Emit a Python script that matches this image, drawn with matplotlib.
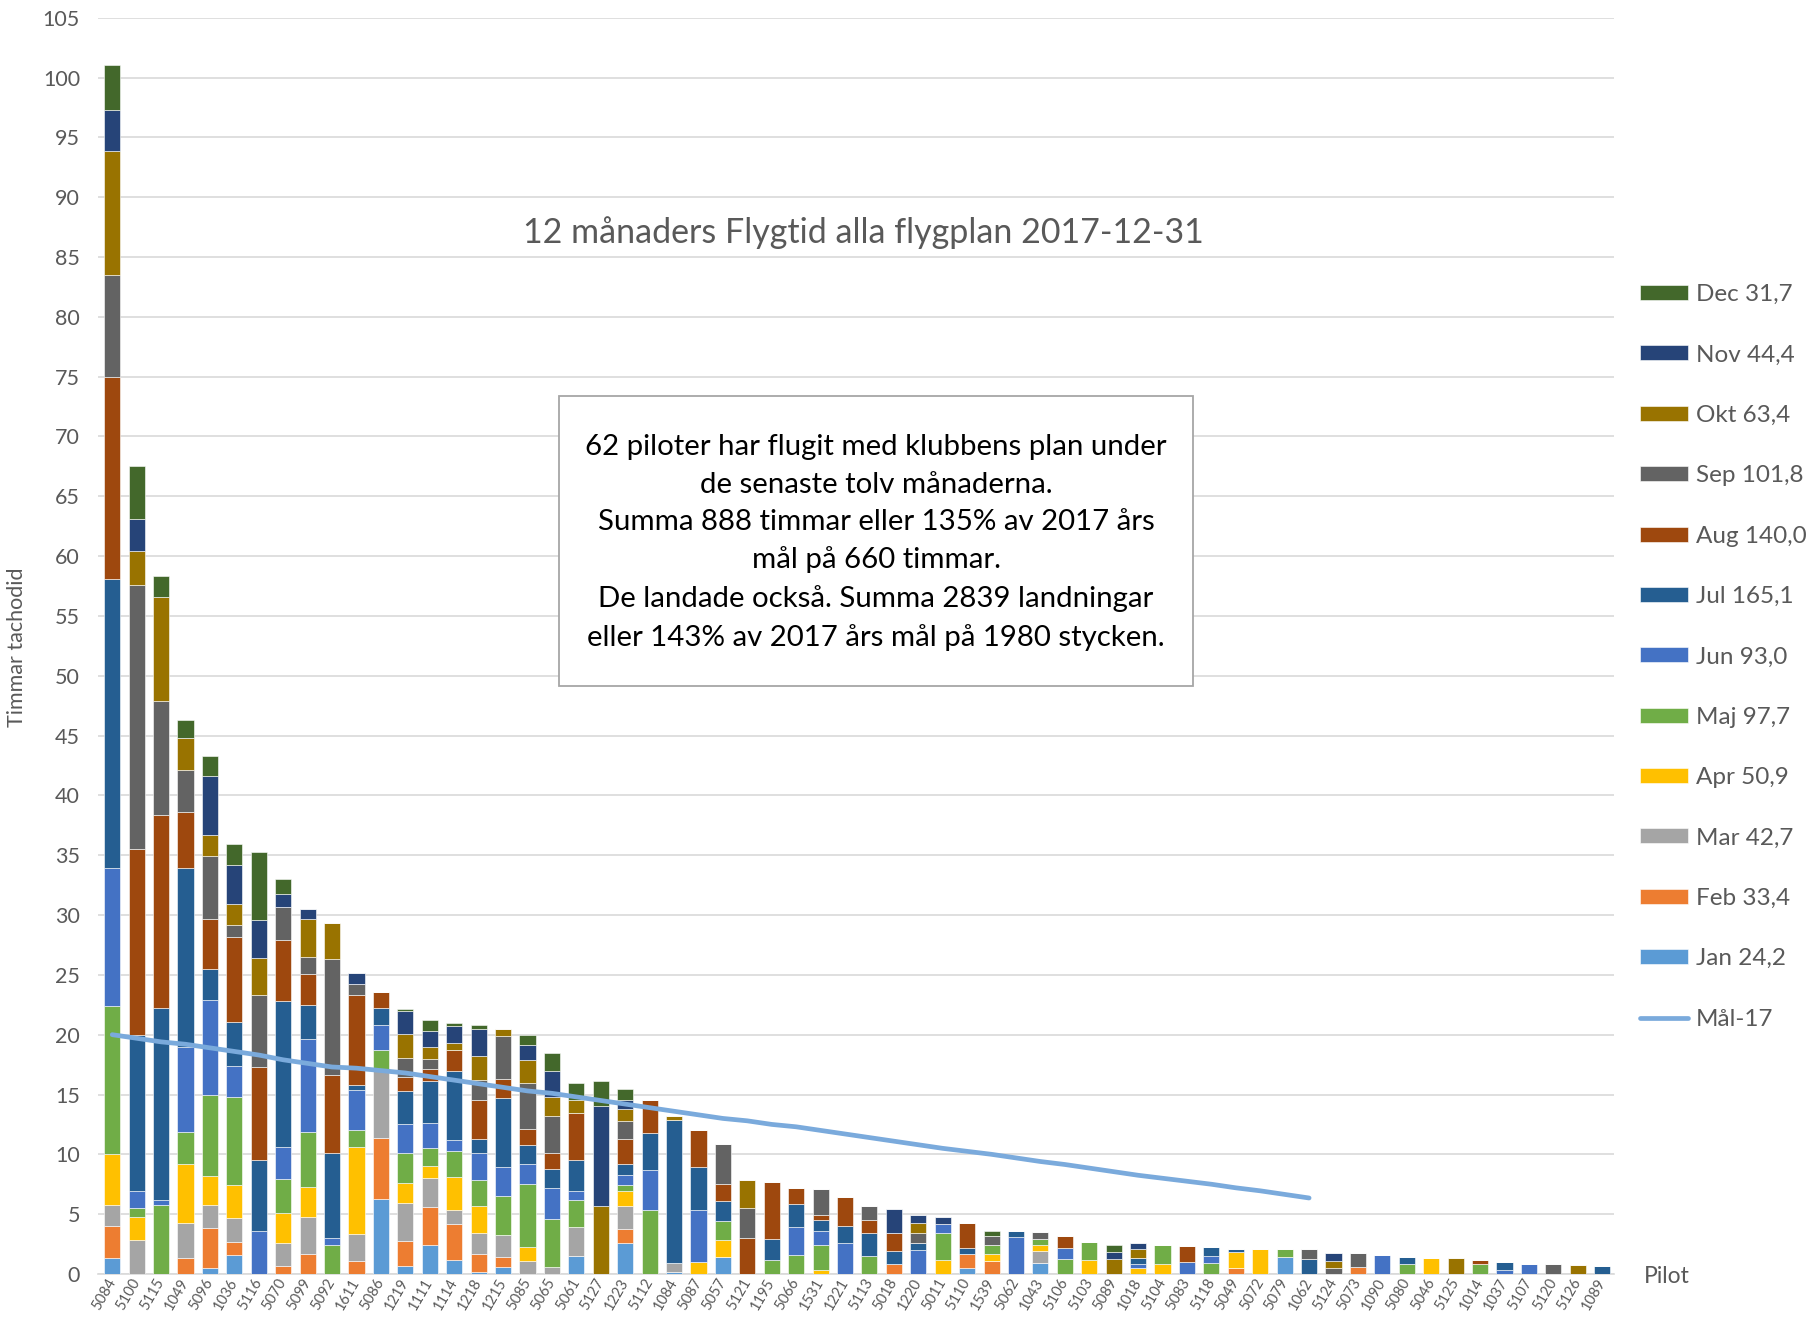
import matplotlib
matplotlib.use("Agg")
import matplotlib.pyplot as plt
from matplotlib.patches import Rectangle
import numpy as np

plt.rcParams['font.family'] = ['Lato', 'DejaVu Sans']

pilots = ['5084', '5100', '5115', '1049', '5096', '1036', '5116', '5070', '5099', '5092',
          '1611', '5086', '1219', '1111', '1114', '1218', '1215', '5085', '5065', '5061',
          '5127', '1223', '5112', '1084', '5087', '5057', '5121', '1195', '5066', '1531',
          '1221', '5113', '5018', '1220', '5011', '5110', '1539', '5062', '1043', '5106',
          '5103', '5089', '1018', '5104', '5083', '5118', '5049', '5072', '5079', '1062',
          '5124', '5073', '1090', '5080', '5046', '5125', '1014', '1037', '5107', '5120',
          '5126', '1089']

# timmar per månad och pilot
jan = [1.3, 0, 0, 0, 0.5, 1.6, 0, 0, 0, 0,
       0, 6.25, 0.67, 2.4, 1.2, 0.2, 0.55, 0, 0, 1.5,
       0, 2.55, 0, 0.2, 0, 1.4, 0, 0, 0, 0,
       0, 0, 0, 0, 0, 0.5, 0, 0, 0.95, 0,
       0, 0, 0, 0, 0, 0, 0, 0, 1.45, 0,
       0, 0, 0, 0, 0, 0, 0, 0, 0, 0,
       0, 0]
feb = [2.7, 0, 0, 1.3, 3.35, 1.05, 0, 0.7, 1.7, 0,
       1.1, 5.15, 2.1, 3.2, 3.0, 1.5, 0.85, 0, 0, 0,
       0, 1.2, 0, 0, 0, 0, 0, 0, 0, 0,
       0, 0, 0.85, 0, 0, 1.15, 1.05, 0, 0, 0,
       0, 0, 0, 0, 0, 0, 0.5, 0, 0, 0,
       0, 0.55, 0, 0, 0, 0, 0, 0, 0, 0,
       0, 0]
mar = [1.75, 2.8, 0, 3.0, 1.9, 2.05, 0, 1.9, 3.1, 0,
       2.25, 5.55, 3.2, 2.4, 1.15, 1.75, 1.85, 1.05, 0.55, 2.45,
       0, 1.95, 0, 0.75, 0, 0, 0, 0, 0, 0,
       0, 0, 0, 0, 0, 0, 0, 0, 0.95, 0,
       0, 0, 0, 0, 0, 0, 0, 0, 0, 0,
       0, 0, 0, 0, 0, 0, 0, 0, 0, 0,
       0, 0]
apr = [4.25, 2.0, 0, 4.9, 2.45, 2.7, 0, 2.5, 2.5, 0,
       7.25, 0, 1.6, 1.0, 2.75, 2.25, 0, 1.2, 0, 0,
       0, 1.2, 0, 0, 1.0, 1.4, 0, 0, 0, 0.35,
       0, 0, 0, 0, 1.15, 0, 0.6, 0, 0.5, 0,
       1.15, 0, 0.5, 0.8, 0, 0, 1.35, 2.1, 0, 0,
       0, 0, 0, 0, 1.3, 0, 0, 0, 0, 0,
       0, 0]
maj = [12.4, 0.7, 5.75, 2.65, 6.8, 7.4, 0, 2.8, 4.6, 2.4,
       1.4, 1.75, 2.5, 1.5, 2.2, 2.15, 3.3, 5.25, 4.05, 2.2,
       0, 0.5, 5.35, 0, 0, 1.6, 0, 1.15, 1.6, 2.05,
       0, 1.5, 0, 0, 2.25, 0, 0.75, 0, 0.55, 1.25,
       1.5, 0, 0, 1.6, 0, 0.9, 0, 0, 0.65, 0,
       0, 0, 0, 0.85, 0, 0, 0.85, 0, 0, 0,
       0, 0]
jun = [11.5, 1.4, 0.45, 7.15, 7.9, 2.6, 3.6, 2.7, 7.75, 0.6,
       3.4, 2.1, 2.5, 2.1, 0.9, 2.25, 2.35, 1.65, 2.6, 0.75,
       0, 0.85, 3.35, 0, 4.35, 0, 0, 0, 2.3, 1.2,
       2.55, 0, 0, 2.0, 0.8, 0, 0, 3.05, 0, 0.95,
       0, 0, 0.3, 0, 1.0, 0.6, 0, 0, 0, 0,
       0, 0, 1.6, 0, 0, 0, 0, 0.35, 0.85, 0,
       0, 0]
jul = [24.2, 13.1, 16.0, 14.9, 2.6, 3.7, 5.95, 12.2, 2.85, 7.1,
       0.4, 1.4, 2.7, 3.5, 5.8, 1.15, 5.8, 1.65, 1.6, 2.6,
       0, 0.9, 3.1, 11.95, 3.55, 1.7, 0, 1.75, 1.95, 0.9,
       1.5, 1.9, 1.05, 0.55, 0, 0.55, 0, 0.55, 0, 0,
       0, 0, 0.55, 0, 0, 0.75, 0.25, 0, 0, 1.25,
       0, 0, 0, 0.55, 0, 0, 0, 0.65, 0, 0,
       0, 0.65]
aug = [16.9, 15.5, 16.2, 4.7, 4.2, 7.1, 7.75, 5.1, 2.6, 6.5,
       7.5, 1.4, 1.2, 1.0, 1.7, 3.25, 1.6, 1.3, 1.3, 3.95,
       0, 2.15, 2.7, 0, 3.1, 1.4, 3.0, 4.75, 1.35, 0.4,
       2.35, 1.1, 1.5, 0, 0, 2.05, 0, 0, 0, 1.0,
       0, 0, 0, 0, 1.3, 0, 0, 0, 0, 0,
       0, 0, 0, 0, 0, 0, 0.3, 0, 0, 0,
       0, 0]
sep = [8.5, 22.1, 9.5, 3.5, 5.2, 1.0, 6.0, 2.8, 1.4, 9.7,
       0.9, 0, 1.6, 0.9, 0, 1.7, 3.6, 3.9, 3.1, 0,
       0, 1.5, 0, 0, 0, 3.35, 2.5, 0, 0, 2.2,
       0, 1.2, 0, 0.85, 0, 0, 0.8, 0, 0.55, 0,
       0, 0, 0, 0, 0, 0, 0, 0, 0, 0.85,
       0.5, 1.2, 0, 0, 0, 0, 0, 0, 0, 0.85,
       0, 0]
okt = [10.4, 2.8, 8.7, 2.7, 1.8, 1.7, 3.1, 0, 3.15, 3.0,
       0, 0, 2.0, 1.0, 0.6, 2.05, 0.6, 1.9, 1.6, 1.05,
       5.65, 0.95, 0, 0.3, 0, 0, 2.35, 0, 0, 0,
       0, 0, 0, 0.9, 0, 0, 0, 0, 0, 0,
       0, 1.25, 0.75, 0, 0, 0, 0, 0, 0, 0,
       0.6, 0, 0, 0, 0, 1.3, 0, 0, 0, 0,
       0.75, 0]
nov = [3.4, 2.7, 0, 0, 4.9, 3.3, 3.2, 1.1, 0.85, 0,
       0.95, 0, 1.9, 1.3, 1.4, 2.25, 0, 1.2, 2.2, 0,
       8.4, 0.75, 0, 0, 0, 0, 0, 0, 0, 0,
       0, 0, 2.05, 0.6, 0.6, 0, 0, 0, 0, 0,
       0, 0.6, 0.45, 0, 0, 0, 0, 0, 0, 0,
       0.65, 0, 0, 0, 0, 0, 0, 0, 0, 0,
       0, 0]
dec = [3.75, 4.4, 1.7, 1.5, 1.7, 1.7, 5.7, 1.2, 0, 0,
       0, 0, 0.2, 0.95, 0.3, 0.3, 0, 0.9, 1.5, 1.5,
       2.05, 0.95, 0, 0, 0, 0, 0, 0, 0, 0,
       0, 0, 0, 0, 0, 0, 0.4, 0, 0, 0,
       0, 0.55, 0, 0, 0, 0, 0, 0, 0, 0,
       0, 0, 0, 0, 0, 0, 0, 0, 0, 0,
       0, 0]

# målkurva (Mål-17), de första 50 piloterna
maal = [20.0, 19.7, 19.4, 19.2, 18.9, 18.6, 18.3, 17.9, 17.6, 17.3,
        17.2, 17.0, 16.8, 16.5, 16.2, 15.9, 15.6, 15.3, 15.1, 14.8,
        14.5, 14.2, 13.9, 13.6, 13.3, 13.0, 12.8, 12.5, 12.3, 12.0,
        11.7, 11.4, 11.1, 10.8, 10.5, 10.25, 10.0, 9.7, 9.4, 9.15,
        8.85, 8.55, 8.25, 8.0, 7.75, 7.5, 7.2, 6.95, 6.65, 6.35]

month_labels = ['Jan 24,2', 'Feb 33,4', 'Mar 42,7', 'Apr 50,9', 'Maj 97,7', 'Jun 93,0',
                'Jul 165,1', 'Aug 140,0', 'Sep 101,8', 'Okt 63,4', 'Nov 44,4', 'Dec 31,7']
series = [jan, feb, mar, apr, maj, jun, jul, aug, sep, okt, nov, dec]
colors = ['#5B9BD5', '#ED7D31', '#A5A5A5', '#FFC000', '#70AD47', '#4472C4',
          '#255E91', '#9E480E', '#636363', '#997300', '#264478', '#43682B']

grey_txt = '#595959'

fig = plt.figure(figsize=(18.16, 13.21), dpi=100)
ax = fig.add_axes([0.054, 0.0356, 0.835, 0.951])

x = np.arange(len(pilots))
bottom = np.zeros(len(pilots))
handles = []
for vals, col, lab in zip(series, colors, month_labels):
    v = np.array(vals, dtype=float)
    b = ax.bar(x, v, width=0.66, bottom=bottom, color=col, edgecolor='white',
               linewidth=0.4, label=lab, zorder=3)
    handles.append(b)
    bottom += v

line, = ax.plot(np.arange(len(maal)), maal, color='#7AAADC', lw=3.4,
                solid_capstyle='round', zorder=4, label='Mål-17')

ax.set_xlim(-0.58, len(pilots) - 0.5)
ax.set_ylim(0, 105)
ax.set_yticks(np.arange(0, 106, 5))
ax.grid(axis='y', color='#D9D9D9', lw=1.2, zorder=0)
for s in ['top', 'right', 'left']:
    ax.spines[s].set_visible(False)
ax.spines['bottom'].set_color('#D9D9D9')
ax.spines['bottom'].set_linewidth(1.2)
ax.tick_params(axis='both', length=0, colors=grey_txt)
ax.tick_params(axis='y', labelsize=15.5, pad=13)
ax.set_xticks(x)
ax.set_xticklabels(pilots, rotation=60, ha='right', va='center',
                   rotation_mode='anchor', fontsize=10.5)
ax.tick_params(axis='x', pad=4)

fig.text(0.0094, 0.51, 'Timmar tachodid', rotation=90, ha='center', va='center',
         fontsize=15.5, color=grey_txt)
fig.text(0.918, 0.034, 'Pilot', ha='center', va='center', fontsize=16.5, color=grey_txt)

fig.text(0.4755, 0.824, '12 månaders Flygtid alla flygplan 2017-12-31',
         ha='center', va='center', fontsize=24.5, color=grey_txt)

box = Rectangle((0.3078, 0.4807), 0.3492, 0.2195, transform=fig.transFigure,
                facecolor='white', edgecolor='#A6A6A6', lw=1.3, zorder=5)
fig.patches.append(box)
info = ("62 piloter har flugit med klubbens plan under\n"
        "de senaste tolv månaderna.\n"
        "Summa 888 timmar eller 135% av 2017 års\n"
        "mål på 660 timmar.\n"
        "De landade också. Summa 2839 landningar\n"
        "eller 143% av 2017 års mål på 1980 stycken.")
fig.text(0.4824, 0.5893, info, ha='center', va='center', fontsize=21.2,
         color='black', linespacing=1.53, zorder=6)

leg_handles = handles[::-1] + [line]
leg_labels = month_labels[::-1] + ['Mål-17']
ax.legend(leg_handles, leg_labels, loc='center left',
          bbox_to_anchor=(0.903, 0.5027), bbox_transform=fig.transFigure,
          frameon=False, fontsize=17.5, labelcolor=grey_txt, handlelength=2.0,
          handleheight=0.57, handletextpad=0.3, labelspacing=1.62,
          borderpad=0, borderaxespad=0)

fig.savefig('out.png', dpi=100)
